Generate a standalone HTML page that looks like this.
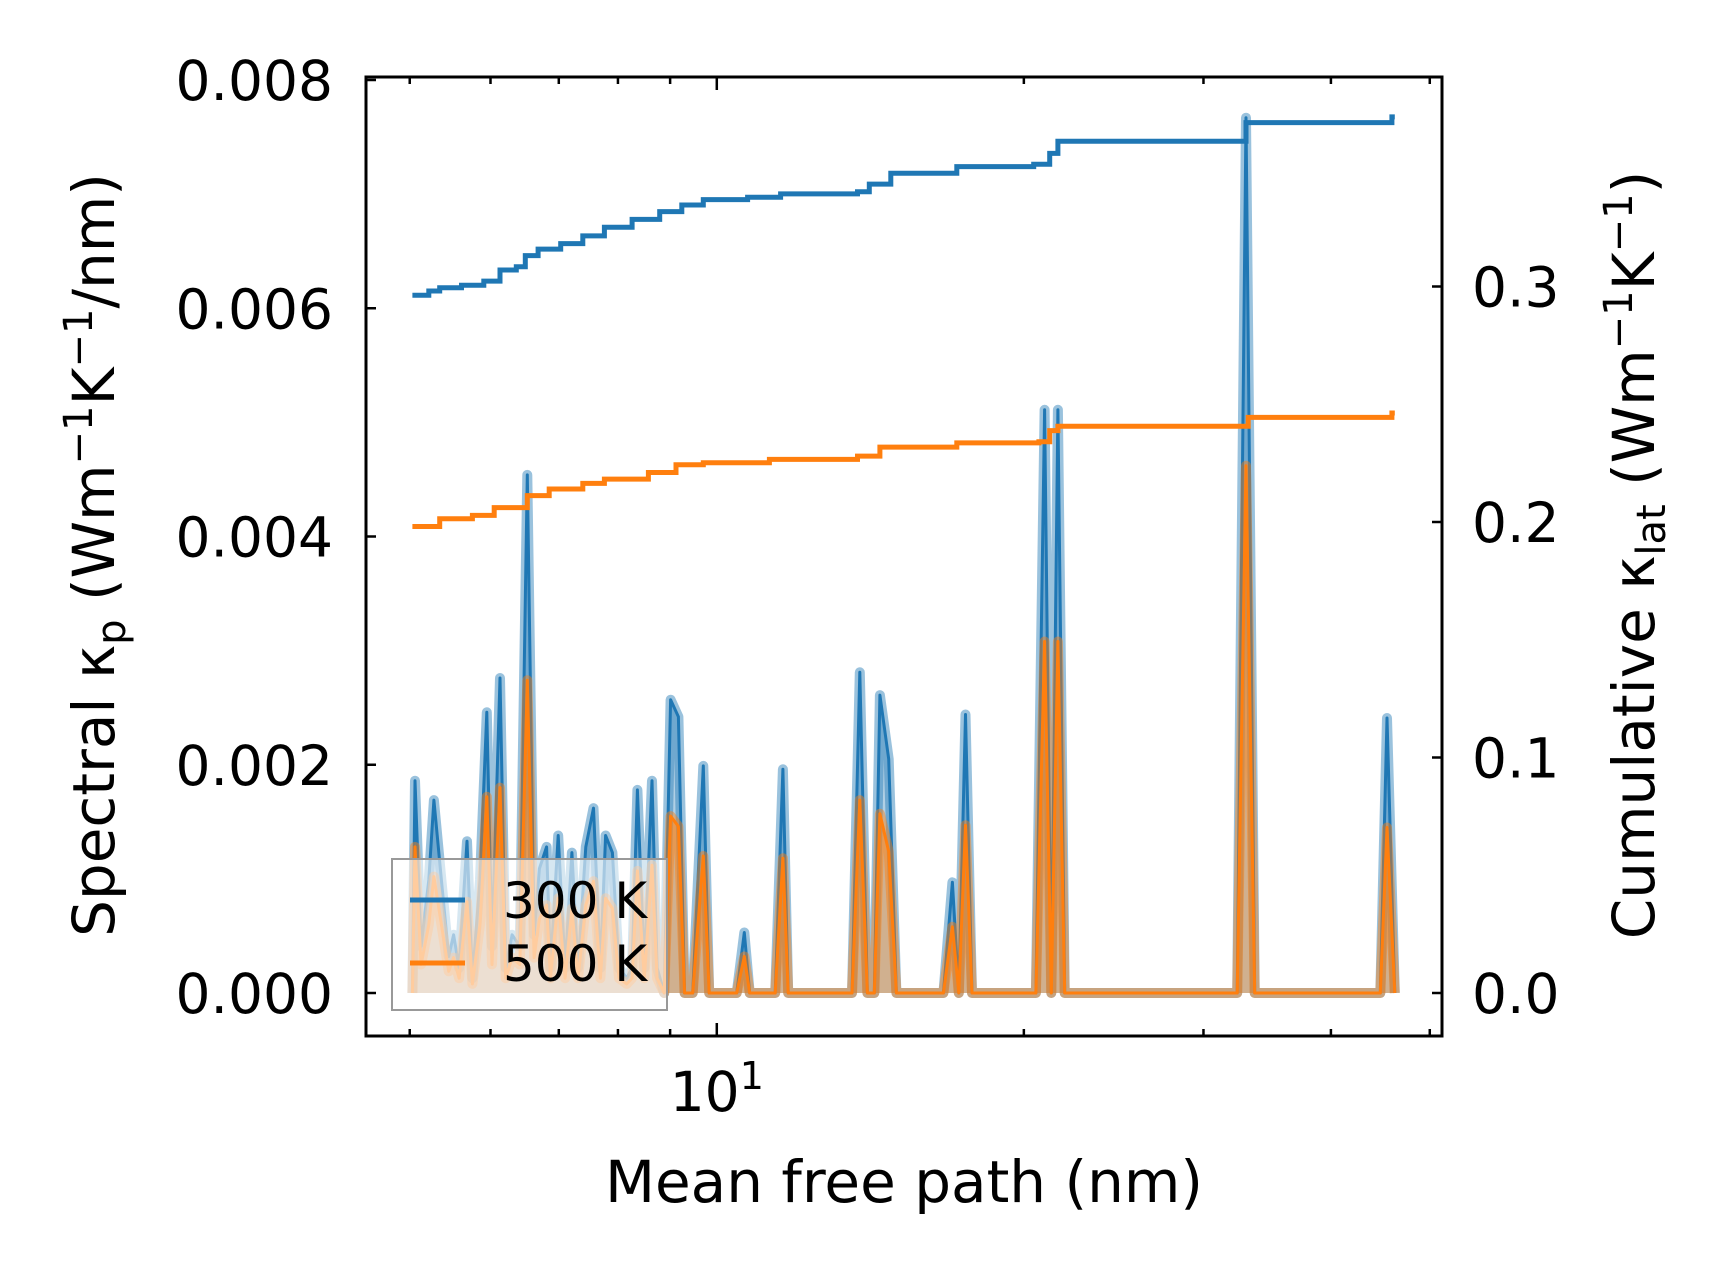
<!DOCTYPE html>
<html><head><meta charset="utf-8"><style>
html,body{margin:0;padding:0;background:#fff;}
svg{display:block;font-family:"DejaVu Sans","Liberation Sans",sans-serif;}
</style></head><body>
<svg id="chart" width="1716" height="1268" viewBox="0 0 1716 1268" xmlns="http://www.w3.org/2000/svg">
<rect width="1716" height="1268" fill="#fff"/>
<g id="plot"></g>
<g id="axes"></g>
</svg>
<script>
const specMfp = [5.03,5.06,5.13,5.22,5.28,5.37,5.46,5.52,5.59,5.69,5.76,5.86,5.95,6.02,6.13,6.21,6.30,6.41,6.52,6.62,6.70,6.81,6.87,6.99,7.10,7.21,7.31,7.44,7.57,7.69,7.78,7.90,8.02,8.16,8.26,8.36,8.49,8.64,8.74,8.88,9.01,9.17,9.30,9.47,9.70,9.83,10.46,10.64,10.77,11.41,11.61,11.75,13.57,13.81,14.05,14.27,14.45,14.74,15.0,16.68,17.02,17.27,17.53,17.79,20.55,20.96,21.28,21.60,21.93,32.37,33.02,33.68,44.72,45.40,46.2];
const spec300 = [0,0.00186,0.00041,0.00099,0.00169,0.00099,0.00032,0.00051,0.00022,0.00133,0.00013,0.00099,0.00246,0.00041,0.00276,0.00022,0.00051,0.00041,0.00454,0.00051,0.00109,0.00128,0.00022,0.00138,0.00022,0.00123,0.00022,0.00128,0.00162,0.00022,0.00138,0.00123,0.00022,0.00013,0.00022,0.00178,0.00022,0.00186,0.00022,0,0.00257,0.00242,0,0,0.00199,0,0,0.00053,0,0,0.00196,0,0,0.00281,0,0,0.00261,0.00205,0,0,0.00097,0,0.00244,0,0,0.00511,0,0.00511,0,0,0.00767,0,0,0.00241,0];
const spec500 = [0,0.00128,0.00025,0.00060,0.00102,0.00060,0.00019,0.00031,0.00013,0.00080,0.00008,0.00060,0.00172,0.00025,0.00180,0.00013,0.00031,0.00025,0.00274,0.00031,0.00065,0.00077,0.00013,0.00083,0.00013,0.00074,0.00013,0.00077,0.00098,0.00013,0.00083,0.00074,0.00013,0.00008,0.00013,0.00107,0.00013,0.00112,0.00013,0,0.00155,0.00146,0,0,0.00120,0,0,0.00032,0,0,0.00118,0,0,0.00169,0,0,0.00157,0.00124,0,0,0.00058,0,0.00147,0,0,0.00308,0,0.00308,0,0,0.00462,0,0,0.00145,0];
const cum300Mfp = [5.03,5.22,5.35,5.62,5.91,6.13,6.36,6.49,6.68,7.03,7.39,7.76,8.26,8.79,9.24,9.70,10.72,11.55,13.74,14.11,14.81,17.19,20.45,21.2,21.6,32.78,33.02,45.3,45.9,46.2];
const cum300 = [0.2963,0.2981,0.2995,0.3005,0.3023,0.307,0.3084,0.3131,0.3159,0.3182,0.3215,0.3252,0.3285,0.3318,0.3346,0.3369,0.3379,0.3393,0.3402,0.3435,0.3481,0.3509,0.3519,0.3565,0.3617,0.3617,0.3696,0.3696,0.372,0.372];
const cum500Mfp = [5.03,5.35,5.76,6.05,6.52,6.85,7.39,7.76,8.57,9.12,9.70,11.26,13.74,14.45,17.19,20.69,21.2,21.6,32.78,33.19,45.3,45.9,46.2];
const cum500 = [0.1981,0.2014,0.2028,0.2061,0.2112,0.214,0.2164,0.2182,0.221,0.2243,0.2252,0.2266,0.228,0.2318,0.2336,0.2341,0.2388,0.2407,0.2407,0.2444,0.2444,0.2463,0.2463];
const leftTicks = [0,0.002,0.004,0.006,0.008];
const leftTickLabels = ["0.000","0.002","0.004","0.006","0.008"];
const rightTicks = [0,0.1,0.2,0.3];
const rightTickLabels = ["0.0","0.1","0.2","0.3"];
const xMinorTicks = [5,6,7,8,9,20,30,40,50];

const NS="http://www.w3.org/2000/svg";
const L=366,R=1442,T=77,B=1036,Y0=993;
const xmin=Math.log10(4.53),xmax=Math.log10(51.4);
function X(m){return L+(Math.log10(m)-xmin)/(xmax-xmin)*(R-L);}
function YL(v){return Y0-v/0.008*(Y0-80);}
function YR(v){return Y0-v/0.1*235.5;}
function el(tag,attrs,parent,text){const e=document.createElementNS(NS,tag);for(const k in attrs)e.setAttribute(k,attrs[k]);if(text!==undefined)e.textContent=text;parent.appendChild(e);return e;}
const plot=document.getElementById('plot'),axes=document.getElementById('axes');

function drawSpec(vals,color,name,fo){
  let pts=specMfp.map((m,i)=>X(m).toFixed(1)+','+YL(vals[i]).toFixed(1));
  const area=el('polygon',{points:X(specMfp[0])+','+Y0+' '+pts.join(' ')+' '+X(specMfp[specMfp.length-1])+','+Y0,fill:color,'fill-opacity':fo,stroke:'none'},plot);
  
  
  const thick=el('polyline',{points:pts.join(' '),fill:'none',stroke:color,'stroke-opacity':0.45,'stroke-width':10,'stroke-linejoin':'round'},plot);
  
  
  const thin=el('polyline',{points:pts.join(' '),fill:'none',stroke:color,'stroke-width':3,'stroke-linejoin':'round'},plot);
  
  
}
drawSpec(spec300,'#1f77b4','spectral-300k',0.35);
drawSpec(spec500,'#ff7f0e','spectral-500k',0.4);

function drawCum(ms,vals,color,name){
  let d='';
  ms.forEach((m,i)=>{const x=X(m),y=YR(vals[i]);
    if(i===0) d+='M'+x.toFixed(1)+' '+y.toFixed(1);
    else d+='H'+x.toFixed(1)+'V'+y.toFixed(1);});
  const p=el('path',{d:d,fill:'none',stroke:color,'stroke-width':5,'stroke-linejoin':'miter'},plot);
  
  
}
drawCum(cum300Mfp,cum300,'#1f77b4','cumulative-300k');
drawCum(cum500Mfp,cum500,'#ff7f0e','cumulative-500k');

const frame=el('rect',{x:L,y:T,width:R-L,height:B-T,fill:'none',stroke:'#000','stroke-width':3},axes);


leftTicks.forEach((v,i)=>{const y=YL(v);
  el('line',{x1:L,x2:L+10,y1:y,y2:y,stroke:'#000','stroke-width':2.5},axes);
  const t=el('text',{x:333,y:y+20,'text-anchor':'end','font-size':55,fill:'#000'},axes,leftTickLabels[i]);
  
  
});
rightTicks.forEach((v,i)=>{const y=YR(v);
  el('line',{x1:R-10,x2:R,y1:y,y2:y,stroke:'#000','stroke-width':2.5},axes);
  const t=el('text',{x:1472,y:y+20,'font-size':55,fill:'#000'},axes,rightTickLabels[i]);
  
  
});
xMinorTicks.forEach(m=>{const x=X(m);
  el('line',{x1:x,x2:x,y1:B,y2:B-7,stroke:'#000','stroke-width':2.5},axes);
  el('line',{x1:x,x2:x,y1:T,y2:T+7,stroke:'#000','stroke-width':2.5},axes);
});
const x10=X(10);
el('line',{x1:x10,x2:x10,y1:B,y2:B-13,stroke:'#000','stroke-width':2.5},axes);
el('line',{x1:x10,x2:x10,y1:T,y2:T+13,stroke:'#000','stroke-width':2.5},axes);
</script>
<script>
const ax=document.getElementById('axes');
ax.insertAdjacentHTML('beforeend',`
<text x="${X(10)}" y="1111" text-anchor="middle" font-size="55">10<tspan font-size="38" dy="-22">1</tspan></text>
<text x="904" y="1202" text-anchor="middle" font-size="58">Mean free path (nm)</text>
<text transform="translate(114,555) rotate(-90)" text-anchor="middle" font-size="58">Spectral κ<tspan font-size="40" dy="11">p</tspan><tspan dy="-11"> (Wm</tspan><tspan font-size="40" dy="-22">−1</tspan><tspan dy="22">K</tspan><tspan font-size="40" dy="-22">−1</tspan><tspan dy="22">/nm)</tspan></text>
<text transform="translate(1654,555) rotate(-90)" text-anchor="middle" font-size="58">Cumulative κ<tspan font-size="40" dy="11">lat</tspan><tspan dy="-11"> (Wm</tspan><tspan font-size="40" dy="-22">−1</tspan><tspan dy="22">K</tspan><tspan font-size="40" dy="-22">−1</tspan><tspan dy="22">)</tspan></text>
<g>
<rect x="392" y="859" width="275" height="151" fill="#fff" fill-opacity="0.6" stroke="#999" stroke-width="2"/>
<line x1="410" x2="465" y1="900" y2="900" stroke="#1f77b4" stroke-width="5"/>
<text x="503" y="918" font-size="50">300 K</text>
<line x1="410" x2="465" y1="963" y2="963" stroke="#ff7f0e" stroke-width="5"/>
<text x="503" y="981" font-size="50">500 K</text>
</g>`);
</script>
</body></html>
